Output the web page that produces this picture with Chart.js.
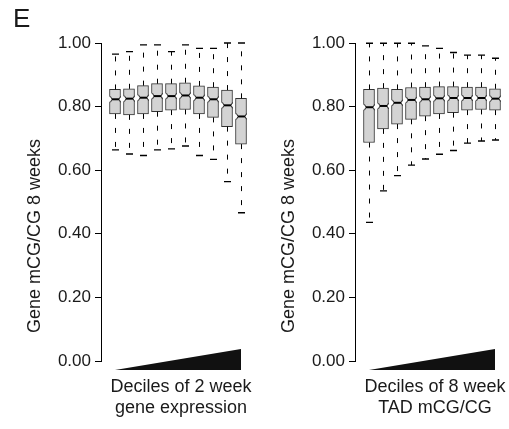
<!DOCTYPE html>
<html>
<head>
<meta charset="utf-8">
<script src="https://cdn.jsdelivr.net/npm/chart.js@4.4.1/dist/chart.umd.min.js"></script>
<style>
  body { margin: 0; background: #fff; }
  #wrap { position: relative; width: 509px; height: 429px; }
  canvas { position: absolute; top: 0; }
</style>
</head>
<body>
<div id="wrap">
  <canvas id="left" width="255" height="429" style="left:0"></canvas>
  <canvas id="right" width="255" height="429" style="left:254px"></canvas>
</div>
<script>
const deciles = [1, 2, 3, 4, 5, 6, 7, 8, 9, 10];
const yTicks = [0, 0.2, 0.4, 0.6, 0.8, 1.0];

// deciles of 2 week gene expression
const exprUpper  = [0.965, 0.973, 0.994, 0.994, 0.973, 0.994, 0.983, 0.983, 1.000, 1.000];
const exprQ3     = [0.854, 0.856, 0.866, 0.872, 0.872, 0.875, 0.865, 0.861, 0.852, 0.826];
const exprMedian = [0.823, 0.825, 0.828, 0.833, 0.833, 0.835, 0.828, 0.823, 0.804, 0.769];
const exprQ1     = [0.777, 0.774, 0.777, 0.784, 0.789, 0.791, 0.777, 0.766, 0.737, 0.682];
const exprLower  = [0.664, 0.651, 0.646, 0.664, 0.667, 0.676, 0.646, 0.634, 0.564, 0.466];

// deciles of 8 week TAD mCG/CG
const tadUpper  = [0.999, 0.999, 0.999, 0.999, 0.991, 0.983, 0.970, 0.962, 0.962, 0.952];
const tadQ3     = [0.854, 0.858, 0.854, 0.860, 0.861, 0.863, 0.863, 0.861, 0.861, 0.856];
const tadMedian = [0.798, 0.802, 0.812, 0.821, 0.823, 0.826, 0.827, 0.827, 0.827, 0.825];
const tadQ1     = [0.687, 0.730, 0.745, 0.760, 0.770, 0.777, 0.781, 0.789, 0.791, 0.789];
const tadLower  = [0.436, 0.535, 0.583, 0.616, 0.635, 0.650, 0.662, 0.685, 0.692, 0.695];

const yTitle = 'Gene mCG/CG 8 weeks';
const FONT = "'Liberation Sans', Arial, sans-serif";

function makePanel(id, p) {
  // whiskers, caps, notches, medians, the wedge and the texts
  const extras = {
    id: 'boxExtras',
    afterDatasetsDraw(chart) {
      const ctx = chart.ctx, xs = chart.scales.x, ys = chart.scales.y;
      const half = 5.5, capHalf = 3.5, notchDepth = 2, notchHalf = 3;
      ctx.save();
      deciles.forEach((d, i) => {
        const cx = Math.round(xs.getPixelForValue(d));
        const yHi = ys.getPixelForValue(p.upper[i]);
        const yQ3 = ys.getPixelForValue(p.q3[i]);
        const yMed = ys.getPixelForValue(p.median[i]);
        const yQ1 = ys.getPixelForValue(p.q1[i]);
        const yLo = ys.getPixelForValue(p.lower[i]);
        ctx.strokeStyle = '#000';
        ctx.lineWidth = 1;
        ctx.setLineDash([5, 9]);
        ctx.beginPath();
        ctx.moveTo(cx + 0.5, yQ3); ctx.lineTo(cx + 0.5, yHi);
        ctx.moveTo(cx + 0.5, yQ1); ctx.lineTo(cx + 0.5, yLo);
        ctx.stroke();
        ctx.setLineDash([]);
        ctx.lineWidth = 1.4;
        ctx.beginPath();
        ctx.moveTo(cx + 0.5 - capHalf, yHi); ctx.lineTo(cx + 0.5 + capHalf, yHi);
        ctx.moveTo(cx + 0.5 - capHalf, yLo); ctx.lineTo(cx + 0.5 + capHalf, yLo);
        ctx.stroke();
        // notch
        const l = cx + 0.5 - half, r = cx + 0.5 + half;
        ctx.fillStyle = '#fff';
        ctx.beginPath();
        ctx.moveTo(l - 1, yMed - notchHalf); ctx.lineTo(l + notchDepth, yMed); ctx.lineTo(l - 1, yMed + notchHalf);
        ctx.closePath(); ctx.fill();
        ctx.beginPath();
        ctx.moveTo(r + 1, yMed - notchHalf); ctx.lineTo(r - notchDepth, yMed); ctx.lineTo(r + 1, yMed + notchHalf);
        ctx.closePath(); ctx.fill();
        ctx.strokeStyle = '#333';
        ctx.lineWidth = 1;
        ctx.beginPath();
        ctx.moveTo(l + 0.5, yMed - notchHalf); ctx.lineTo(l + notchDepth, yMed); ctx.lineTo(l + 0.5, yMed + notchHalf);
        ctx.moveTo(r - 0.5, yMed - notchHalf); ctx.lineTo(r - notchDepth, yMed); ctx.lineTo(r - 0.5, yMed + notchHalf);
        ctx.stroke();
        ctx.strokeStyle = '#000';
        ctx.lineWidth = 2;
        ctx.beginPath();
        ctx.moveTo(l + notchDepth, yMed); ctx.lineTo(r - notchDepth, yMed);
        ctx.stroke();
      });

      // rising wedge under the boxes
      const y0 = ys.getPixelForValue(0);
      const x1 = xs.getPixelForValue(deciles[0]);
      const x10 = xs.getPixelForValue(deciles[deciles.length - 1]);
      ctx.fillStyle = '#111';
      ctx.beginPath();
      ctx.moveTo(x1, y0 + 9); ctx.lineTo(x10, y0 - 12); ctx.lineTo(x10, y0 + 9);
      ctx.closePath(); ctx.fill();

      // texts
      ctx.fillStyle = '#1a1a1a';
      ctx.font = '18px ' + FONT;
      ctx.textAlign = 'center';
      ctx.textBaseline = 'alphabetic';
      ctx.fillText(p.xLabel[0], 181, 392);
      ctx.fillText(p.xLabel[1], 181, 413);
      ctx.save();
      ctx.translate(35, 236);
      ctx.rotate(-Math.PI / 2);
      ctx.textBaseline = 'middle';
      ctx.fillText(yTitle, 0, 0);
      ctx.restore();
      if (p.tag) {
        ctx.font = '26px ' + FONT;
        ctx.textAlign = 'left';
        ctx.fillText(p.tag, 13, 27);
      }
      ctx.restore();
    }
  };

  new Chart(document.getElementById(id), {
    type: 'bar',
    data: {
      datasets: [{
        data: deciles.map((d, i) => ({ x: d, y: [p.q1[i], p.q3[i]] })),
        backgroundColor: '#d3d3d3',
        borderColor: '#333',
        borderWidth: 1,
        borderSkipped: false,
        barThickness: 11
      }]
    },
    options: {
      responsive: false,
      animation: false,
      devicePixelRatio: 1,
      layout: { padding: { top: 43, bottom: 68, left: 0, right: 0 } },
      plugins: { legend: { display: false }, tooltip: { enabled: false } },
      scales: {
        x: { type: 'linear', min: 0, max: 11, offset: false, display: false },
        y: {
          min: 0, max: 1,
          afterBuildTicks: s => { s.ticks = yTicks.map(v => ({ value: v })); },
          afterFit: s => { s.width = 101; },
          border: { display: true, color: '#000', width: 1 },
          grid: { drawOnChartArea: false, drawTicks: true, tickLength: 6, color: '#000' },
          ticks: {
            color: '#1a1a1a', padding: 4,
            font: { family: FONT, size: 17 },
            callback: v => v.toFixed(2)
          }
        }
      }
    },
    plugins: [extras]
  });
}

makePanel('left', {
  upper: exprUpper, q3: exprQ3, median: exprMedian, q1: exprQ1, lower: exprLower,
  xLabel: ['Deciles of 2 week', 'gene expression'], tag: 'E'
});
makePanel('right', {
  upper: tadUpper, q3: tadQ3, median: tadMedian, q1: tadQ1, lower: tadLower,
  xLabel: ['Deciles of 8 week', 'TAD mCG/CG']
});
</script>
</body>
</html>
